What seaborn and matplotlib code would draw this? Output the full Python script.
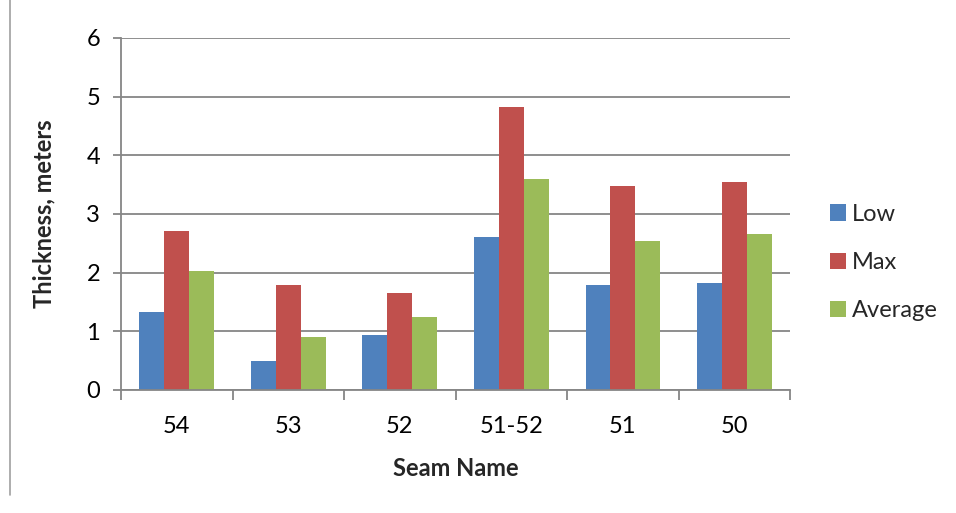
import matplotlib
matplotlib.use("Agg")
import matplotlib.pyplot as plt
from matplotlib.lines import Line2D
from matplotlib.ticker import FixedLocator
import seaborn as sns
import pandas as pd

seams = ["54", "53", "52", "51-52", "51", "50"]
low = [1.33, 0.50, 0.93, 2.60, 1.79, 1.83]
mx = [2.71, 1.78, 1.66, 4.83, 3.48, 3.55]
avg = [2.03, 0.91, 1.25, 3.60, 2.53, 2.65]
series = ["Low", "Max", "Average"]
colors = ["#4F81BD", "#C0504D", "#9BBB59"]

rows = []
for name, vals in zip(series, [low, mx, avg]):
    for s, v in zip(seams, vals):
        rows.append({"Seam": s, "Series": name, "Value": v})
df = pd.DataFrame(rows)

sns.set_theme(style="white")
plt.rcParams["font.family"] = ["Lato", "DejaVu Sans"]

fs = 17

fig = plt.figure(figsize=(9.56, 5.13), dpi=100)
ax = fig.add_axes([0.1266, 0.240, 0.700, 0.686])

sns.barplot(data=df, x="Seam", y="Value", hue="Series", order=seams,
            hue_order=series, palette=colors, width=0.67, saturation=1,
            errorbar=None, ax=ax, linewidth=0)

grid_c = "#868686"
ax.set_ylim(0, 6)
ax.set_xlim(-0.5, len(seams) - 0.5)
ax.set_yticks(range(0, 7))
ax.yaxis.grid(True, color=grid_c, linewidth=1.3)
ax.set_axisbelow(True)
for sp in ["top", "right"]:
    ax.spines[sp].set_visible(False)
for sp in ["left", "bottom"]:
    ax.spines[sp].set_color(grid_c)
    ax.spines[sp].set_linewidth(1.3)

ax.tick_params(axis="y", which="major", length=6, width=1.3, color=grid_c,
               labelsize=fs, pad=9, labelcolor="black", left=True)
ax.tick_params(axis="x", which="major", length=0, labelsize=fs, pad=19,
               labelcolor="black")
ax.xaxis.set_minor_locator(FixedLocator([i - 0.5 for i in range(len(seams) + 1)]))
ax.tick_params(axis="x", which="minor", length=7, width=1.3, color=grid_c,
               bottom=True)

ax.set_xlabel("Seam Name", fontsize=fs, fontweight="bold", labelpad=14)
ax.set_ylabel("Thickness, meters", fontsize=fs, fontweight="bold", labelpad=22)

h, l = ax.get_legend_handles_labels()
ax.legend(h, l, loc="center left", bbox_to_anchor=(0.858, 0.488),
          bbox_transform=fig.transFigure, frameon=False, fontsize=fs,
          handlelength=0.7, handleheight=0.7, handletextpad=0.25,
          labelspacing=1.15, borderaxespad=0)

fig.add_artist(Line2D([0.0105, 0.0105], [1.0, 0.035], transform=fig.transFigure,
                      color="#A0A0A0", linewidth=1.2))

fig.savefig("out.png", dpi=100)
